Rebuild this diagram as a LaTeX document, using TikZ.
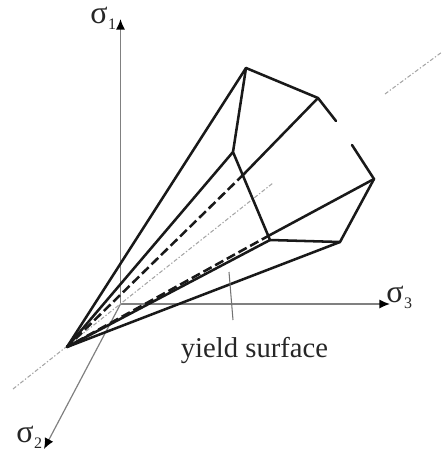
\documentclass[tikz,border=0pt]{standalone}
\usepackage{fontspec}
\setmainfont{Liberation Serif}
\usetikzlibrary{arrows.meta}
\newcommand{\sigsub}[1]{{\fontsize{24}{26}\selectfont σ}\kern0.5pt\raisebox{-4.5pt}{\fontsize{12}{13}\selectfont #1}}
\begin{document}
\begin{tikzpicture}[x=0.75pt,y=-0.75pt,
  edge/.style={draw=black!90,line width=1.9pt,line cap=round,line join=round},
  hidden/.style={edge,line cap=butt,dash pattern=on 7pt off 3pt},
  axis/.style={draw=black!50,line width=1.2pt,-{Latex[length=8pt,width=7pt,black]}},
  hydro/.style={draw=black!35,line width=0.8pt,dash pattern=on 3pt off 1.5pt on 1pt off 1.5pt},
  leader/.style={draw=black!55,line width=0.8pt},
  lab/.style={inner sep=0pt,text=black!85,font=\fontsize{21.5}{24}\selectfont}]
\useasboundingbox (0,0) rectangle (442,452);
\coordinate (P) at (67,347);
\coordinate (A) at (246,68);
\coordinate (B) at (318,98);
\coordinate (C) at (336,121);
\coordinate (D) at (352,145);
\coordinate (E) at (374,179);
\coordinate (F) at (340,242);
\coordinate (G) at (270,240);
\coordinate (H) at (233,152);
\coordinate (J) at (244,174);
\coordinate (K) at (270,235);
\coordinate (O) at (120.5,304);
\coordinate (X1) at (120.5,19);
\coordinate (X3) at (390,304);
\coordinate (X2) at (44,449);
\coordinate (Ha) at (13,389);
\coordinate (Hb) at (273,183);
\coordinate (Hc) at (385,94);
\coordinate (Hd) at (442,52);
\coordinate (La) at (229,272);
\coordinate (Lb) at (233,320);
% axes
\draw[axis] (O) -- (X1);
\draw[axis] (O) -- (X3);
\draw[axis,line width=0.9pt] (O) -- (X2);
\draw[hydro] (Ha) -- (Hb);
\draw[hydro] (Hc) -- (Hd);
% cone
\draw[edge] (P) -- (A) -- (B) -- (C);
\draw[edge] (D) -- (E) -- (F) -- (G) -- (H) -- (A);
\draw[edge] (P) -- (H);
\draw[edge] (P) -- (G);
\draw[edge] (P) -- (F);
\draw[edge] (B) -- (J);
\draw[hidden] (J) -- (P);
\draw[edge] (E) -- (K);
\draw[hidden] (K) -- (P);
% labels
\draw[leader] (La) -- (Lb);
\node[lab,anchor=base] (ys) at (254.5,357) {yield surface};
\node[lab,anchor=base west] (s1) at (90,24) {\sigsub{1}};
\node[lab,anchor=base west] (s3) at (386,302) {\sigsub{3}};
\node[lab,anchor=base west] (s2) at (16,442) {\sigsub{2}};
\end{tikzpicture}
\end{document}
